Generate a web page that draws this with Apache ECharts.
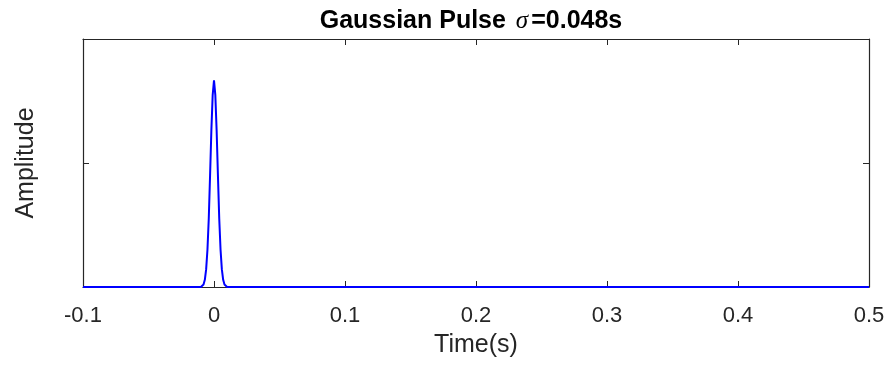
<!DOCTYPE html>
<html>
<head>
<meta charset="utf-8">
<script src="https://cdn.jsdelivr.net/npm/echarts@6/dist/echarts.min.js"></script>
<style>html,body{margin:0;padding:0;background:#fff}#c{width:888px;height:367px}</style>
</head>
<body>
<div id="c"></div>
<script>
const timeS = [-0.1, -0.01, -0.009, -0.008, -0.007, -0.006, -0.005, -0.004, -0.003, -0.002, -0.001, 0,
  0.001, 0.002, 0.003, 0.004, 0.005, 0.006, 0.007, 0.008, 0.009, 0.01, 0.5];
const amplitude = [0, 0, 0.004, 0.012, 0.035, 0.085, 0.18, 0.33, 0.54, 0.76, 0.93, 1,
  0.93, 0.76, 0.54, 0.33, 0.18, 0.085, 0.035, 0.012, 0.004, 0, 0];
const xTickLabels = ['-0.1', '0', '0.1', '0.2', '0.3', '0.4', '0.5'];
const titleMain = 'Gaussian Pulse';
const titleSigma = 'σ';
const titleValue = '=0.048s';

const axisColor = '#262626';
const chart = echarts.init(document.getElementById('c'));
const baseX = {
  type: 'value', min: -0.1, max: 0.5, interval: 0.1,
  splitLine: { show: false },
  axisLine: { show: true, onZero: false, lineStyle: { color: axisColor, width: 1.2 } },
  axisTick: { show: true, inside: true, length: 6, lineStyle: { color: axisColor } }
};
const baseY = {
  type: 'value', min: 0, max: 1.2, interval: 0.6,
  splitLine: { show: false },
  axisLine: { show: true, onZero: false, lineStyle: { color: axisColor, width: 1.2 } },
  axisTick: { show: true, inside: true, length: 6, lineStyle: { color: axisColor } },
  axisLabel: { show: false }
};
chart.setOption({
  animation: false,
  title: {
    text: '{b|' + titleMain + ' }{s|' + titleSigma + '}{b|' + titleValue + '}',
    left: 466, top: 4, textAlign: 'center',
    textStyle: {
      rich: {
        b: { fontFamily: 'Liberation Sans, Arial', fontWeight: 'bold', fontSize: 25, color: '#000' },
        s: { fontFamily: 'Liberation Serif', fontStyle: 'italic', fontWeight: 'normal', fontSize: 25, color: '#000', padding: [0, 3, 0, 3] }
      }
    }
  },
  grid: { left: 83, right: 19, top: 39, bottom: 80, containLabel: false, outerBoundsMode: 'none' },
  xAxis: [
    Object.assign({}, baseX, {
      position: 'bottom',
      name: 'Time(s)', nameLocation: 'middle', nameGap: 46,
      nameTextStyle: { fontFamily: 'Liberation Sans, Arial', fontSize: 25, color: axisColor },
      axisLabel: {
        show: true, margin: 18, fontFamily: 'Liberation Sans, Arial', fontSize: 22, color: axisColor,
        formatter: (v, i) => xTickLabels[i]
      }
    }),
    Object.assign({}, baseX, { position: 'top', axisLabel: { show: false } })
  ],
  yAxis: [
    Object.assign({}, baseY, {
      position: 'left',
      name: 'Amplitude', nameLocation: 'middle', nameGap: 44,
      nameTextStyle: { fontFamily: 'Liberation Sans, Arial', fontSize: 25, color: axisColor }
    }),
    Object.assign({}, baseY, { position: 'right' })
  ],
  series: [{
    type: 'line', xAxisIndex: 0, yAxisIndex: 0,
    data: timeS.map((t, i) => [t, amplitude[i]]),
    showSymbol: false, symbol: 'none',
    lineStyle: { color: '#0000ff', width: 2 },
    z: 1
  }]
});
</script>
</body>
</html>
